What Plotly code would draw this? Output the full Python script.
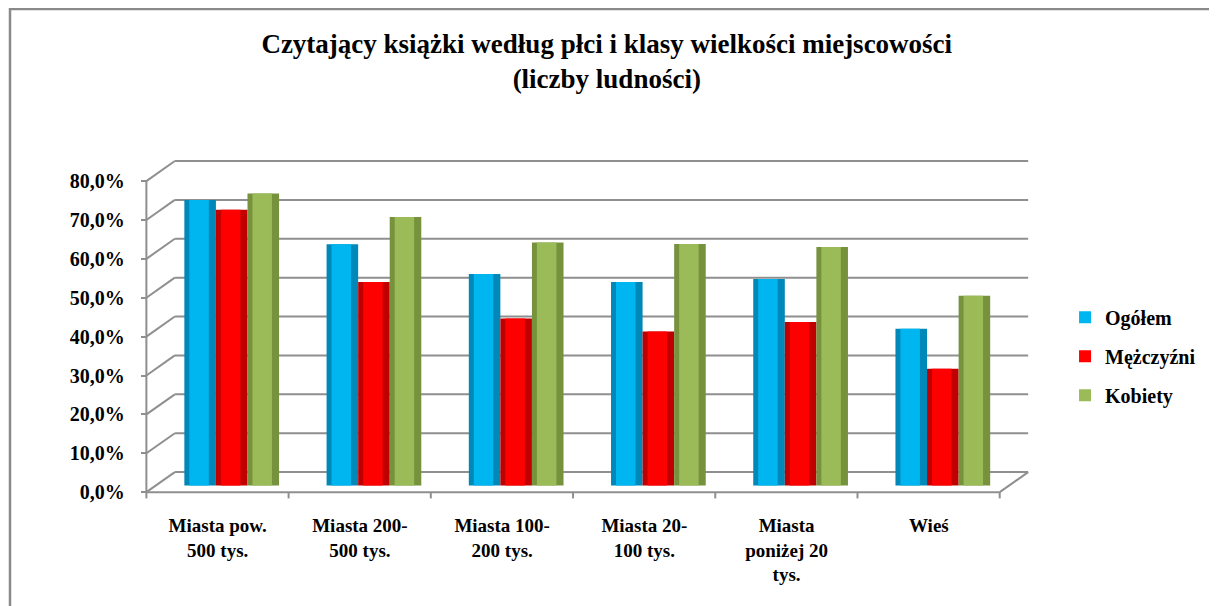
import plotly.graph_objects as go

# ---------------- data ----------------
CATEGORIES = [
    "Miasta pow.<br>500 tys.",
    "Miasta 200-<br>500 tys.",
    "Miasta 100-<br>200 tys.",
    "Miasta 20-<br>100 tys.",
    "Miasta<br>poniżej 20<br>tys.",
    "Wieś",
]
SERIES_NAMES = ["Ogółem", "Mężczyźni", "Kobiety"]
OGOLEM = [0.734, 0.620, 0.544, 0.523, 0.531, 0.403]
MEZCZYZNI = [0.709, 0.523, 0.429, 0.396, 0.420, 0.300]
KOBIETY = [0.751, 0.690, 0.625, 0.621, 0.613, 0.488]
Y_TICKS = [0.0, 0.1, 0.2, 0.3, 0.4, 0.5, 0.6, 0.7, 0.8]

# ---------------- style ----------------
MAIN_COLORS = ["#00B6F1", "#FF0000", "#9BBB59"]
DARK_COLORS = ["#0088B8", "#C00000", "#76923C"]
FONT = "Liberation Serif"
GRID = "#8F8F8F"

idx = list(range(len(CATEGORIES)))
series = [OGOLEM, MEZCZYZNI, KOBIETY]

BAR_W = 0.222
GROUP_START = -1.5 * BAR_W

# pseudo-3D frame geometry (axis units)
X_FRONT_L, X_FRONT_R = -0.6, 5.4
DX = 0.2
FRONT_DY = -0.0173
BACK_DY = 0.0343

fig = go.Figure()

for s, (name, vals) in enumerate(zip(SERIES_NAMES, series)):
    off = GROUP_START + s * BAR_W
    # darker body (cylinder edges)
    fig.add_trace(go.Bar(
        x=idx, y=vals, name=name, offset=off, width=BAR_W,
        marker=dict(color=DARK_COLORS[s], line=dict(width=0)),
        showlegend=False, hoverinfo="skip",
    ))
    # lighter core
    fig.add_trace(go.Bar(
        x=idx, y=vals, name=name, offset=off + 0.035, width=BAR_W - 0.085,
        marker=dict(color=MAIN_COLORS[s], line=dict(width=0)),
        legendgroup=name, showlegend=True,
    ))

# invisible helper so the front value axis (y2) is drawn
fig.add_trace(go.Scatter(x=[idx[0]], y=[Y_TICKS[0]], yaxis="y2", mode="markers",
                         marker=dict(opacity=0), showlegend=False, hoverinfo="skip"))

shapes = []
line = dict(color=GRID, width=2)
# back wall gridlines + side wall diagonals
for v in Y_TICKS:
    shapes.append(dict(type="line", xref="x", yref="y",
                       x0=X_FRONT_L + DX, x1=X_FRONT_R + DX,
                       y0=v + BACK_DY, y1=v + BACK_DY, line=line, layer="below"))
    shapes.append(dict(type="line", xref="x", yref="y",
                       x0=X_FRONT_L, x1=X_FRONT_L + DX,
                       y0=v + FRONT_DY, y1=v + BACK_DY, line=line, layer="below"))
# front vertical axis
shapes.append(dict(type="line", xref="x", yref="y",
                   x0=X_FRONT_L, x1=X_FRONT_L,
                   y0=Y_TICKS[0] + FRONT_DY, y1=Y_TICKS[-1] + FRONT_DY, line=line))
# floor front edge and right diagonal
shapes.append(dict(type="line", xref="x", yref="y",
                   x0=X_FRONT_L, x1=X_FRONT_R, y0=FRONT_DY, y1=FRONT_DY, line=line))
shapes.append(dict(type="line", xref="x", yref="y",
                   x0=X_FRONT_R, x1=X_FRONT_R + DX, y0=FRONT_DY, y1=BACK_DY, line=line))
# category tick marks on front edge
for k in range(len(CATEGORIES) + 1):
    xk = X_FRONT_L + k
    shapes.append(dict(type="line", xref="x", yref="y",
                       x0=xk, x1=xk, y0=FRONT_DY, y1=FRONT_DY - 0.016, line=line))
# chart border
shapes.append(dict(type="rect", xref="paper", yref="paper",
                   x0=-0.1395, x1=1.3, y0=-0.5, y1=1.406,
                   line=dict(color="#8A8A8A", width=2.5), layer="below"))

fig.update_layout(
    width=1217, height=606,
    margin=dict(l=127, r=194, t=143, b=113),
    paper_bgcolor="white", plot_bgcolor="rgba(0,0,0,0)",
    barmode="overlay",
    separators=", ",
    font=dict(family=FONT, color="black", size=17, weight="bold"),
    title=dict(
        text="Czytający książki według płci i klasy wielkości miejscowości<br>(liczby ludności)",
        x=0.492, xanchor="center", xref="container",
        y=1 - 45 / 606, yanchor="top", yref="container",
        font=dict(family=FONT, size=27, color="black", weight="bold"),
    ),
    xaxis=dict(
        range=[-0.68, 5.62], tickmode="array", tickvals=idx,
        ticktext=CATEGORIES,
        ticklabelshift=-14, ticklabelstandoff=11,
        showgrid=False, zeroline=False, showline=False, ticks="",
        tickfont=dict(family=FONT, size=19, color="black", weight="bold"),
    ),
    yaxis=dict(range=[-0.04, 0.86], visible=False),
    yaxis2=dict(
        overlaying="y", anchor="free", position=0.013, side="left",
        range=[-0.0227, 0.8773], tickmode="array", tickvals=Y_TICKS,
        tickformat=".1%", ticks="outside", ticklen=6, tickwidth=2, tickcolor=GRID,
        ticklabelstandoff=12,
        showgrid=False, zeroline=False, showline=False,
        tickfont=dict(family=FONT, size=20, color="black", weight="bold"),
    ),
    legend=dict(
        x=1.038, y=0.581, xanchor="left", yanchor="top",
        font=dict(family=FONT, size=20, color="black", weight="bold"),
        tracegroupgap=10, itemwidth=30, bgcolor="rgba(0,0,0,0)",
        traceorder="grouped",
    ),
    shapes=shapes,
)

fig.write_html("out.html")
